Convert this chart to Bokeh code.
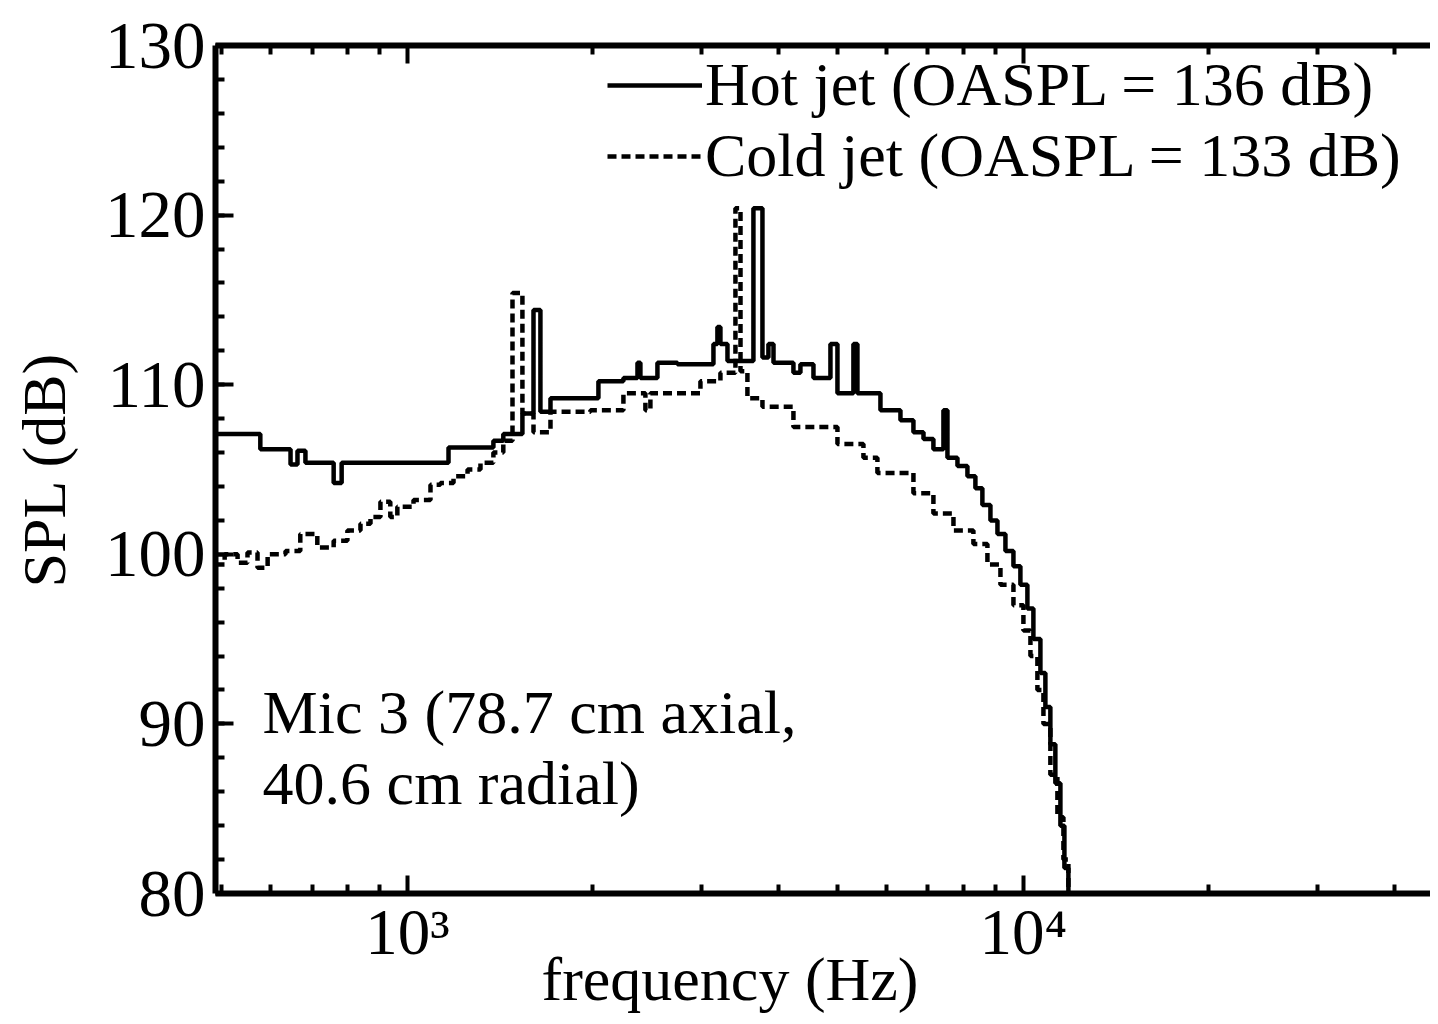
from bokeh.plotting import figure
from bokeh.models import (LogAxis, FixedTicker, SingleIntervalTicker, Legend,
                          LegendItem, Label)
from bokeh.embed import file_html
from bokeh.resources import INLINE

# ---- data ----
hot_freq = [488, 577, 646, 663, 683, 759, 782, 1166, 1379, 1431, 1537, 1602, 1644,
            1707, 2042, 2242, 2363, 2389, 2546, 2744, 3139, 3186, 3222, 3308, 3645,
            3770, 3855, 3929, 4233, 4345, 4562, 4861, 4990, 5297, 5377, 5860, 6315,
            6629, 6883, 7143, 7416, 7528, 7815, 8112, 8357, 8578, 8840, 9075, 9350,
            9634, 9888, 10150, 10380, 10656, 10856, 11060, 11268, 11483, 11656,
            11831, 12010]
hot_spl = [107.1, 106.2, 105.3, 106.1, 105.4, 104.2, 105.4, 106.3, 106.7, 107.1,
           108.3, 114.4, 108.4, 109.2, 110.2, 110.4, 111.3, 110.4, 111.3, 111.2,
           112.4, 113.4, 112.4, 111.4, 120.4, 111.6, 112.4, 111.3, 110.7, 111.2,
           110.4, 112.4, 109.5, 112.4, 109.5, 108.5, 107.9, 107.2, 106.8, 106.2,
           108.5, 105.7, 105.2, 104.6, 103.9, 102.9, 102.0, 101.2, 100.2, 99.3,
           98.2, 96.8, 95.0, 93.0, 91.0, 88.8, 86.5, 84.0, 81.5, 79.0, 79.0]

cold_freq = [488, 505, 530, 550, 571, 593, 634, 670, 714, 759, 799, 839, 871, 904,
             938, 963, 1023, 1090, 1131, 1188, 1252, 1314, 1379, 1431, 1481, 1537,
             1602, 1707, 1982, 2242, 2434, 2480, 2990, 3222, 3408, 3473, 3564, 3770,
             4233, 4990, 5499, 5794, 6629, 7143, 7699, 8295, 8741, 9177, 9634,
             10000, 10266, 10537, 10777, 11060, 11355, 11613, 11831, 12010]
cold_spl = [99.4, 100.0, 99.5, 100.1, 99.2, 100.0, 100.2, 101.2, 100.4, 100.8,
            101.4, 101.8, 102.2, 103.1, 102.2, 102.8, 103.2, 104.1, 104.2, 104.6,
            105.0, 105.4, 106.0, 106.7, 115.4, 108.3, 107.2, 108.4, 108.5, 109.5,
            108.5, 109.5, 110.2, 110.7, 120.4, 110.8, 109.2, 108.7, 107.5, 106.5,
            105.7, 104.8, 103.6, 102.4, 101.4, 100.6, 99.4, 98.2, 97.0, 95.5, 94.0,
            92.0, 90.0, 87.0, 84.5, 82.0, 79.0, 79.0]

x_major = [1000, 10000]
x_minor = [500, 600, 700, 800, 900, 2000, 3000, 4000, 5000, 6000, 7000, 8000,
           9000, 20000, 30000, 40000]
x_labels = {1000: "10\u00b3", 10000: "10\u2074"}
x_title = "frequency (Hz)"
y_title = "SPL (dB)"
hot_label = "Hot jet (OASPL = 136 dB)"
cold_label = "Cold jet (OASPL = 133 dB)"
note_1 = "Mic 3 (78.7 cm axial,"
note_2 = "40.6 cm radial)"

FONT = "Liberation Serif"

p = figure(width=1430, height=1016, x_axis_type="log",
           x_range=(488, 45800), y_range=(80, 130),
           output_backend="svg", toolbar_location=None,
           min_border_left=215, min_border_top=45, min_border_right=0,
           min_border_bottom=123)
p.outline_line_color = None
p.xgrid.visible = False
p.ygrid.visible = False
p.background_fill_color = "white"
p.border_fill_color = "white"

xt = FixedTicker(ticks=x_major, minor_ticks=x_minor)
yt = SingleIntervalTicker(interval=10, num_minor_ticks=5)

def style(ax):
    ax.axis_line_width = 6
    ax.axis_line_color = "black"
    ax.major_tick_in = 18
    ax.major_tick_out = 0
    ax.minor_tick_in = 9
    ax.minor_tick_out = 0
    ax.major_tick_line_width = 4
    ax.minor_tick_line_width = 4
    ax.major_tick_line_color = "black"
    ax.minor_tick_line_color = "black"
    ax.major_label_text_font = FONT
    ax.major_label_text_color = "black"
    ax.axis_label_text_font = FONT
    ax.axis_label_text_font_style = "normal"
    ax.axis_label_text_color = "black"

xa = p.xaxis[0]
xa.ticker = xt
xa.major_label_overrides = x_labels
style(xa)
xa.major_label_text_font_size = "65px"
xa.major_label_standoff = 2
# trailing no-break spaces shift the centred title left, where the reference has it
xa.axis_label = x_title + "\u00a0" * 12
xa.axis_label_text_font_size = "62px"
xa.axis_label_standoff = -26

ya = p.yaxis[0]
ya.ticker = yt
style(ya)
ya.major_label_text_font_size = "67px"
ya.major_label_standoff = 10
ya.axis_label = y_title
ya.axis_label_text_font_size = "62px"
ya.axis_label_standoff = 24

top = LogAxis(ticker=xt)
style(top)
top.major_label_text_font_size = "2px"
top.major_label_text_color = None
top.major_label_standoff = 0
p.add_layout(top, "above")

r_hot = p.step(hot_freq, hot_spl, mode="after", line_color="black", line_width=4.5)
r_cold = p.step(cold_freq, cold_spl, mode="after", line_color="black",
                line_width=4.5, line_dash="9 5")

legend = Legend(items=[LegendItem(label=hot_label, renderers=[r_hot]),
                       LegendItem(label=cold_label, renderers=[r_cold])],
                location=(392, 702), glyph_width=95, glyph_height=64,
                label_height=64, label_standoff=3, spacing=0, padding=0,
                margin=0, border_line_color=None, background_fill_alpha=0,
                label_text_font=FONT, label_text_font_size="62px",
                label_text_color="black")
p.add_layout(legend)

p.add_layout(Label(x=582, y=90.7, text=note_1, text_font=FONT,
                   text_font_size="62px", text_color="black",
                   text_baseline="alphabetic"))
p.add_layout(Label(x=582, y=86.5, text=note_2, text_font=FONT,
                   text_font_size="62px", text_color="black",
                   text_baseline="alphabetic"))

open("out.html", "w").write(file_html(p, INLINE))
